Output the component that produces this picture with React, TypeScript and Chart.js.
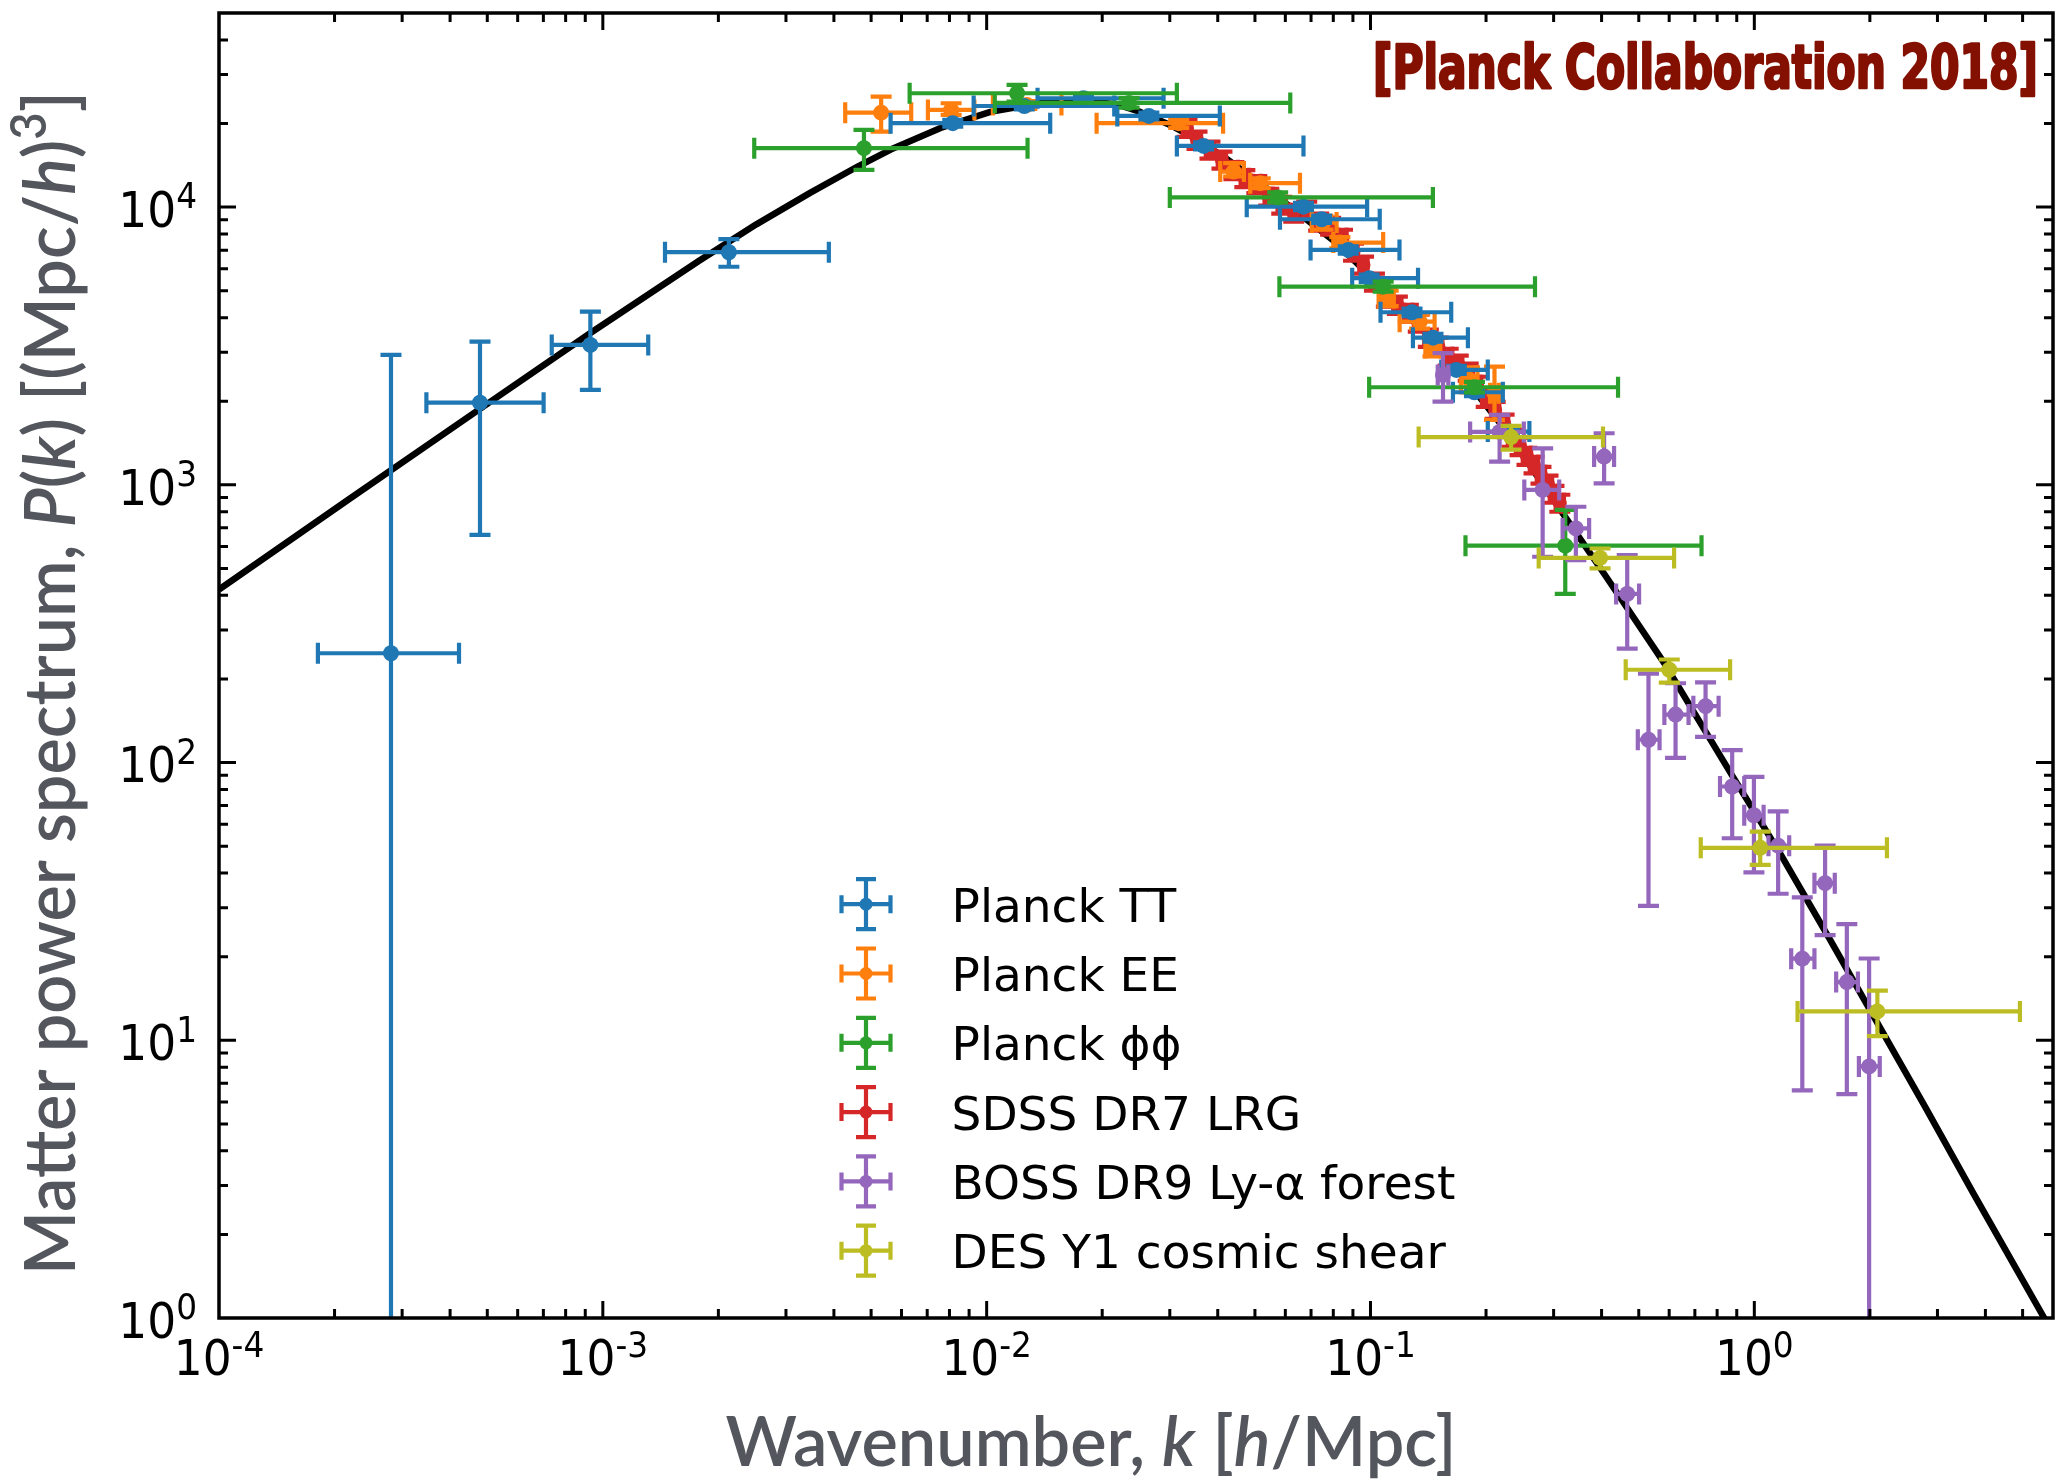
import React, { useEffect, useRef } from "react";
import { Chart, registerables } from "chart.js";

Chart.register(...registerables);

const CANVAS_W = 2061;
const CANVAS_H = 1480;

// ---------------- axis ranges & tick labels ----------------
const X_MIN = 1e-4;
const X_MAX = 6;
const Y_MIN = 1;
const Y_MAX = 5e4;
const xTickValues = [1e-4, 1e-3, 1e-2, 1e-1, 1];
const xTickExps = ["-4", "-3", "-2", "-1", "0"];
const yTickValues = [1, 10, 100, 1000, 10000];
const yTickExps = ["0", "1", "2", "3", "4"];

// ---------------- theory curve ----------------
const theoryK = [1e-4, 2.166e-4, 4.786e-4, 9.408e-4, 1.778e-3, 2.512e-3, 3.467e-3, 4.624e-3, 5.623e-3, 7.586e-3, 1.023e-2, 1.38e-2, 1.723e-2, 2.189e-2, 2.512e-2, 3.006e-2, 3.532e-2, 4.176e-2, 5.37e-2, 8.0e-2, 0.11, 0.1575, 0.2255, 0.3166, 0.4116, 0.5831, 0.8757, 1.17, 1.564, 2.092, 2.796, 3.737, 5.692, 6.0];
const theoryP = [420, 882, 1877, 3567, 6397, 8670, 11250, 14030, 16110, 19280, 22030, 23710, 24320, 23440, 22030, 19770, 17500, 15070, 11670, 7586, 4966, 2938, 1567, 790.7, 465.6, 227.5, 89.7, 46.8, 23.4, 11.56, 5.71, 2.78, 1.0, 0.88];

// ---------------- Planck TT ----------------
const ttK = [2.806e-4, 4.786e-4, 9.28e-4, 2.13e-3, 8.16e-3, 1.253e-2, 1.787e-2, 2.646e-2, 3.675e-2, 6.69e-2, 7.46e-2, 8.75e-2, 9.92e-2, 0.1283, 0.1455, 0.1673, 0.1866, 0.2301];
const ttP = [247.5, 1977, 3190, 6880, 20050, 23130, 24660, 21300, 16610, 10040, 9044, 7014, 5546, 4182, 3389, 2593, 2155, 1555];
const ttKLo = [1.81e-4, 3.47e-4, 7.36e-4, 1.452e-3, 5.62e-3, 9.25e-3, 1.357e-2, 2.19e-2, 3.13e-2, 4.76e-2, 5.81e-2, 6.98e-2, 8.96e-2, 0.1062, 0.129, 0.1529, 0.164, 0.2021];
const ttKHi = [4.22e-4, 7.01e-4, 1.313e-3, 3.88e-3, 1.464e-2, 2.15e-2, 2.89e-2, 4.05e-2, 6.69e-2, 9.8e-2, 0.1057, 0.119, 0.133, 0.1623, 0.1794, 0.2021, 0.2212, 0.2594];
const ttPLo = [0.5, 660, 2197, 6100, 19500, 22500, 24000, 20700, 16150, 9750, 8780, 6800, 5380, 4050, 3280, 2510, 2085, 1505];
const ttPHi = [2936, 3279, 4204, 7670, 20600, 23800, 25300, 21900, 17100, 10350, 9320, 7230, 5720, 4310, 3500, 2680, 2225, 1605];

// ---------------- Planck EE ----------------
const eeK = [5.31e-3, 8.08e-3, 1.273e-2, 3.165e-2, 4.4e-2, 5.16e-2, 7.52e-2, 8.32e-2, 0.1112, 0.1343, 0.1455, 0.1811, 0.2104];
const eeP = [21890, 22390, 23340, 20050, 13430, 12200, 8796, 7450, 4700, 3869, 3103, 2386, 2137];
const eeKLo = [4.28e-3, 7.03e-3, 1.038e-2, 1.934e-2, 4.06e-2, 4.86e-2, 7.03e-2, 8.0e-2, 0.105, 0.1191, 0.139, 0.172, 0.205];
const eeKHi = [6.36e-3, 9.29e-3, 1.566e-2, 4.13e-2, 4.68e-2, 6.55e-2, 8.16e-2, 0.1079, 0.115, 0.1469, 0.152, 0.19, 0.216];
const eePLo = [18700, 21480, 22600, 19300, 12890, 11700, 8300, 7100, 4400, 3650, 2900, 2150, 1713];
const eePHi = [25000, 23660, 24100, 20800, 14390, 12700, 9300, 7800, 5000, 4100, 3300, 2650, 2666];

// ---------------- Planck phi-phi ----------------
const ppK = [4.79e-3, 1.2e-2, 2.35e-2, 5.73e-2, 0.1079, 0.1866, 0.3217];
const ppP = [16300, 25700, 23720, 10840, 5172, 2246, 604];
const ppKLo = [2.48e-3, 6.3e-3, 1.05e-2, 3.0e-2, 5.79e-2, 9.92e-2, 0.1768];
const ppKHi = [1.278e-2, 3.13e-2, 6.18e-2, 0.1454, 0.2683, 0.4415, 0.7285];
const ppPLo = [13610, 23990, 22800, 10400, 4960, 2150, 405];
const ppPHi = [18970, 27540, 24700, 11300, 5390, 2350, 813];

// ---------------- SDSS DR7 LRG ----------------
const lrgK = [0.03326, 0.03532, 0.03818, 0.04102, 0.04407, 0.04706, 0.05057, 0.05433, 0.05872, 0.0631, 0.06821, 0.07328, 0.07872, 0.08456, 0.09033, 0.0959, 0.1024, 0.11, 0.1175, 0.1255, 0.1332, 0.1415, 0.1502, 0.1594, 0.1693, 0.1797, 0.1896, 0.2002, 0.2113, 0.2229, 0.2338, 0.2453, 0.2557, 0.2667, 0.2781, 0.2901, 0.3006, 0.3114];
const lrgP = [19290, 17460, 16070, 14790, 13570, 12700, 12080, 10880, 10180, 9530, 9772, 8846, 8556, 7747, 6898, 6193, 5379, 4710, 4444, 4159, 3828, 3381, 3164, 2888, 2725, 2551, 2290, 2056, 1861, 1671, 1475, 1381, 1271, 1180, 1086, 1008, 927, 861];
const lrgKLo = [0.03243, 0.03444, 0.03723, 0.04, 0.04297, 0.04588, 0.04931, 0.05297, 0.05725, 0.06152, 0.0665, 0.07145, 0.07675, 0.08245, 0.08807, 0.0935, 0.09984, 0.10725, 0.11456, 0.12236, 0.12987, 0.13796, 0.14645, 0.15542, 0.16507, 0.17521, 0.18486, 0.1952, 0.20602, 0.21733, 0.22796, 0.23917, 0.24931, 0.26003, 0.27115, 0.28285, 0.29309, 0.30362];
const lrgKHi = [0.03409, 0.0362, 0.03913, 0.04205, 0.04517, 0.04824, 0.05183, 0.05569, 0.06019, 0.06468, 0.06992, 0.07511, 0.08069, 0.08667, 0.09259, 0.0983, 0.10496, 0.11275, 0.12044, 0.12864, 0.13653, 0.14504, 0.15396, 0.16339, 0.17353, 0.18419, 0.19434, 0.20521, 0.21658, 0.22847, 0.23965, 0.25143, 0.26209, 0.27337, 0.28505, 0.29735, 0.30812, 0.31919];
const lrgPLo = [17900, 16200, 14950, 13750, 12620, 11810, 11230, 10120, 9470, 8860, 9090, 8230, 7960, 7200, 6410, 5760, 5000, 4380, 4130, 3870, 3560, 3140, 2940, 2690, 2530, 2370, 2130, 1910, 1730, 1550, 1370, 1280, 1180, 1100, 1010, 937, 862, 800];
const lrgPHi = [20700, 18700, 17200, 15830, 14520, 13590, 12930, 11640, 10890, 10200, 10460, 9470, 9150, 8290, 7380, 6630, 5760, 5040, 4760, 4450, 4100, 3620, 3390, 3090, 2920, 2730, 2450, 2200, 1990, 1790, 1580, 1480, 1360, 1260, 1160, 1080, 992, 921];

// ---------------- BOSS DR9 Ly-alpha ----------------
const lyaK = [0.1545, 0.217, 0.2809, 0.3428, 0.4061, 0.4665, 0.53, 0.6234, 0.7464, 0.8757, 0.9976, 1.1536, 1.3335, 1.529, 1.742, 1.991];
const lyaP = [2488, 1551, 958.5, 697, 1264, 404.7, 120.8, 148.9, 159.6, 82.0, 64.6, 50.2, 19.67, 36.8, 16.2, 8.05];
const lyaKLo = [0.1497, 0.1818, 0.2516, 0.3166, 0.3825, 0.4365, 0.4971, 0.583, 0.6937, 0.814, 0.9414, 1.0886, 1.2475, 1.4343, 1.6338, 1.8726];
const lyaKHi = [0.1595, 0.2509, 0.3102, 0.3712, 0.4311, 0.5009, 0.5664, 0.674, 0.8072, 0.9414, 1.0573, 1.2327, 1.4343, 1.6204, 1.8617, 2.1222];
const lyaPLo = [1993, 1212, 551, 536, 1013, 257, 30.5, 104, 123.8, 53.4, 40.2, 33.7, 6.6, 23.9, 6.4, 0.5];
const lyaPHi = [2978, 1785, 1354, 834, 1534, 559, 209, 193, 194.5, 110.8, 88.8, 66.7, 32.7, 50.2, 26.2, 19.7];

// ---------------- DES Y1 cosmic shear ----------------
const desK = [0.2324, 0.3964, 0.6004, 1.036, 2.092];
const desP = [1486, 545.6, 215.9, 49.3, 12.7];
const desKLo = [0.1335, 0.2743, 0.4623, 0.7251, 1.296];
const desKHi = [0.4034, 0.618, 0.8647, 2.2157, 4.92];
const desPLo = [1338, 500, 194, 42.8, 10.35];
const desPHi = [1630, 590, 235, 56.4, 15.1];

// ---------------- labels ----------------
const seriesLabels = ["Planck TT", "Planck EE", "Planck ϕϕ", "SDSS DR7 LRG", "BOSS DR9 Ly-α forest", "DES Y1 cosmic shear"];
const seriesColors = ["#1f77b4", "#ff7f0e", "#2ca02c", "#d62728", "#9467bd", "#bcbd22"];
const titleText = "[Planck Collaboration 2018]";

type Seg = { t: string; italic?: boolean; sup?: boolean };
const yTitleSegs: Seg[] = [
  { t: "Matter power spectrum, " },
  { t: "P", italic: true },
  { t: "(" },
  { t: "k", italic: true },
  { t: ") [(Mpc/" },
  { t: "h", italic: true },
  { t: ")" },
  { t: "3", sup: true },
  { t: "]" },
];
const xTitleSegs: Seg[] = [
  { t: "Wavenumber, " },
  { t: "k", italic: true },
  { t: " [" },
  { t: "h", italic: true },
  { t: "/Mpc]" },
];

// ---------------- style constants ----------------
const ERR_LW = 4.2;
const CAP = 10.5;
const LABEL_FAMILY = '"Lato", "Open Sans", "DejaVu Sans", sans-serif';
const LABEL_WEIGHT = "600";
const LABEL_COLOR = "#53575d";
const TICK_BASE_FONT = '50px "DejaVu Sans", sans-serif';
const TICK_EXP_FONT = '36px "DejaVu Sans", sans-serif';
const TICK_SX = 0.91;

function makeSeries(k: number[], p: number[], klo: number[], khi: number[], plo: number[], phi: number[]) {
  return {
    data: k.map((kv, i) => ({ x: kv, y: p[i] })),
    err: { xlo: klo, xhi: khi, ylo: plo, yhi: phi },
  };
}

const errorBarPlugin = {
  id: "errbars",
  beforeDatasetDraw(chart: any, args: any) {
    const ds: any = chart.data.datasets[args.index];
    const e = ds.err;
    if (!e) return;
    const xs = chart.scales.x;
    const ys = chart.scales.y;
    const ctx: CanvasRenderingContext2D = chart.ctx;
    const a = chart.chartArea;
    ctx.save();
    ctx.beginPath();
    ctx.rect(a.left, a.top, a.right - a.left, a.bottom - a.top);
    ctx.clip();
    ctx.strokeStyle = ds.borderColor;
    ctx.lineWidth = ERR_LW;
    ctx.lineCap = "butt";
    for (let i = 0; i < ds.data.length; i++) {
      const p = ds.data[i];
      const px = xs.getPixelForValue(p.x);
      const py = ys.getPixelForValue(p.y);
      const x0 = xs.getPixelForValue(e.xlo[i]);
      const x1 = xs.getPixelForValue(e.xhi[i]);
      const y0 = ys.getPixelForValue(e.ylo[i]);
      const y1 = ys.getPixelForValue(e.yhi[i]);
      ctx.beginPath();
      ctx.moveTo(x0, py);
      ctx.lineTo(x1, py);
      ctx.moveTo(px, y0);
      ctx.lineTo(px, y1);
      ctx.moveTo(x0, py - CAP);
      ctx.lineTo(x0, py + CAP);
      ctx.moveTo(x1, py - CAP);
      ctx.lineTo(x1, py + CAP);
      ctx.moveTo(px - CAP, y0);
      ctx.lineTo(px + CAP, y0);
      ctx.moveTo(px - CAP, y1);
      ctx.lineTo(px + CAP, y1);
      ctx.stroke();
    }
    ctx.restore();
  },
};

function logTicks(min: number, max: number) {
  const out: { v: number; major: boolean }[] = [];
  const e0 = Math.floor(Math.log10(min));
  const e1 = Math.ceil(Math.log10(max));
  for (let e = e0; e <= e1; e++) {
    for (let m = 1; m <= 9; m++) {
      const v = m * Math.pow(10, e);
      if (v > min * 1.0001 && v < max * 0.9999) out.push({ v, major: m === 1 });
    }
  }
  return out;
}

function drawPow(ctx: CanvasRenderingContext2D, exp: string, anchorX: number, baseline: number, align: "center" | "right") {
  ctx.font = TICK_BASE_FONT;
  const wb = ctx.measureText("10").width;
  ctx.font = TICK_EXP_FONT;
  const we = ctx.measureText(exp).width;
  const total = (wb + we) * TICK_SX;
  const left = align === "center" ? anchorX - total / 2 : anchorX - total;
  ctx.save();
  ctx.translate(left, baseline);
  ctx.scale(TICK_SX, 1);
  ctx.textAlign = "left";
  ctx.textBaseline = "alphabetic";
  ctx.fillStyle = "#000";
  ctx.font = TICK_BASE_FONT;
  ctx.fillText("10", 0, 0);
  ctx.font = TICK_EXP_FONT;
  ctx.fillText(exp, wb, -18.5);
  ctx.restore();
}

function segFont(s: Seg, size: number) {
  return `${s.italic ? "italic " : ""}${LABEL_WEIGHT} ${s.sup ? Math.round(size * 0.7) : size}px ${LABEL_FAMILY}`;
}

function drawRich(ctx: CanvasRenderingContext2D, segs: Seg[], size: number, target: number) {
  let total = 0;
  const widths = segs.map((s) => {
    ctx.font = segFont(s, size);
    const w = ctx.measureText(s.t).width;
    total += w;
    return w;
  });
  const sx = target / total;
  ctx.save();
  ctx.translate(-target / 2, 0);
  ctx.scale(sx, 1);
  ctx.textAlign = "left";
  ctx.textBaseline = "alphabetic";
  let x = 0;
  segs.forEach((s, i) => {
    ctx.font = segFont(s, size);
    ctx.fillText(s.t, x, s.sup ? -size * 0.4 : 0);
    x += widths[i];
  });
  ctx.restore();
}

const decorPlugin = {
  id: "decor",
  afterDraw(chart: any) {
    const ctx: CanvasRenderingContext2D = chart.ctx;
    const a = chart.chartArea;
    const xs = chart.scales.x;
    const ys = chart.scales.y;
    ctx.save();

    // ticks (inward, all four sides)
    ctx.strokeStyle = "#000";
    ctx.lineWidth = 3;
    ctx.beginPath();
    for (const t of logTicks(X_MIN, X_MAX)) {
      const px = xs.getPixelForValue(t.v);
      const len = t.major ? 17 : 9;
      ctx.moveTo(px, a.bottom);
      ctx.lineTo(px, a.bottom - len);
      ctx.moveTo(px, a.top);
      ctx.lineTo(px, a.top + len);
    }
    for (const t of logTicks(Y_MIN, Y_MAX)) {
      const py = ys.getPixelForValue(t.v);
      const len = t.major ? 17 : 9;
      ctx.moveTo(a.left, py);
      ctx.lineTo(a.left + len, py);
      ctx.moveTo(a.right, py);
      ctx.lineTo(a.right - len, py);
    }
    ctx.stroke();

    // frame
    ctx.lineWidth = 3.5;
    ctx.strokeRect(a.left, a.top, a.right - a.left, a.bottom - a.top);

    // tick labels
    xTickValues.forEach((v, i) => {
      drawPow(ctx, xTickExps[i], xs.getPixelForValue(v), a.bottom + 57, "center");
    });
    yTickValues.forEach((v, i) => {
      drawPow(ctx, yTickExps[i], a.left - 22, ys.getPixelForValue(v) + 19.8, "right");
    });

    // axis titles
    ctx.fillStyle = LABEL_COLOR;
    ctx.save();
    ctx.translate(1091, 1466);
    drawRich(ctx, xTitleSegs, 70, 731);
    ctx.restore();
    ctx.save();
    ctx.translate(75, 683);
    ctx.rotate(-Math.PI / 2);
    drawRich(ctx, yTitleSegs, 72, 1184);
    ctx.restore();

    // title annotation
    ctx.save();
    ctx.font = 'bold 60px "Liberation Sans Narrow", "DejaVu Sans Condensed", "Liberation Sans", sans-serif';
    const tw = ctx.measureText(titleText).width;
    ctx.translate(1373, 88);
    ctx.scale(665 / tw, 1);
    ctx.fillStyle = "#831000";
    ctx.strokeStyle = "#831000";
    ctx.lineWidth = 2.6;
    ctx.lineJoin = "round";
    ctx.textAlign = "left";
    ctx.fillText(titleText, 0, 0);
    ctx.strokeText(titleText, 0, 0);
    ctx.restore();

    // legend
    const LX = 866;
    const LTX = 951.6;
    const LY0 = 904.2;
    const LDY = 69.3;
    for (let i = 1; i < chart.data.datasets.length; i++) {
      const ds: any = chart.data.datasets[i];
      const yc = LY0 + (i - 1) * LDY;
      ctx.strokeStyle = ds.borderColor;
      ctx.fillStyle = ds.borderColor;
      ctx.lineWidth = ERR_LW;
      ctx.beginPath();
      ctx.moveTo(LX - 24.5, yc);
      ctx.lineTo(LX + 24.5, yc);
      ctx.moveTo(LX, yc - 25);
      ctx.lineTo(LX, yc + 25);
      ctx.moveTo(LX - 24.5, yc - 9);
      ctx.lineTo(LX - 24.5, yc + 9);
      ctx.moveTo(LX + 24.5, yc - 9);
      ctx.lineTo(LX + 24.5, yc + 9);
      ctx.moveTo(LX - 10, yc - 25);
      ctx.lineTo(LX + 10, yc - 25);
      ctx.moveTo(LX - 10, yc + 25);
      ctx.lineTo(LX + 10, yc + 25);
      ctx.stroke();
      ctx.beginPath();
      ctx.arc(LX, yc, 6.5, 0, Math.PI * 2);
      ctx.fill();
      ctx.fillStyle = "#000";
      ctx.font = '47px "DejaVu Sans", sans-serif';
      ctx.textAlign = "left";
      ctx.textBaseline = "alphabetic";
      ctx.fillText(ds.label, LTX, yc + 17.5);
    }

    ctx.restore();
  },
};

export default function App() {
  const ref = useRef<HTMLCanvasElement>(null);
  useEffect(() => {
    const canvas = ref.current!;
    const series = [
      makeSeries(ttK, ttP, ttKLo, ttKHi, ttPLo, ttPHi),
      makeSeries(eeK, eeP, eeKLo, eeKHi, eePLo, eePHi),
      makeSeries(ppK, ppP, ppKLo, ppKHi, ppPLo, ppPHi),
      makeSeries(lrgK, lrgP, lrgKLo, lrgKHi, lrgPLo, lrgPHi),
      makeSeries(lyaK, lyaP, lyaKLo, lyaKHi, lyaPLo, lyaPHi),
      makeSeries(desK, desP, desKLo, desKHi, desPLo, desPHi),
    ];
    // drawing order: lower "order" is drawn later (on top)
    const orders = [5, 6, 4, 7, 2, 1];
    const radii = [8, 8, 8, 7, 8, 8];
    const datasets: any[] = [
      {
        label: "theory",
        data: theoryK.map((k, i) => ({ x: k, y: theoryP[i] })),
        showLine: true,
        borderColor: "#000",
        backgroundColor: "#000",
        borderWidth: 6.5,
        pointRadius: 0,
        pointHoverRadius: 0,
        tension: 0,
        borderJoinStyle: "round",
        order: 10,
      },
      ...series.map((s, i) => ({
        label: seriesLabels[i],
        data: s.data,
        err: s.err,
        showLine: false,
        borderColor: seriesColors[i],
        backgroundColor: seriesColors[i],
        pointBackgroundColor: seriesColors[i],
        pointBorderWidth: 0,
        pointRadius: radii[i],
        pointHoverRadius: radii[i],
        order: orders[i],
      })),
    ];
    const chart = new Chart(canvas, {
      type: "scatter",
      data: { datasets },
      options: {
        animation: false,
        responsive: false,
        devicePixelRatio: 1,
        events: [],
        layout: { padding: { left: 219, right: 3, top: 13, bottom: 162 } },
        scales: {
          x: { type: "logarithmic", min: X_MIN, max: X_MAX, display: false },
          y: { type: "logarithmic", min: Y_MIN, max: Y_MAX, display: false },
        },
        plugins: {
          legend: { display: false },
          tooltip: { enabled: false },
        },
      } as any,
      plugins: [errorBarPlugin, decorPlugin],
    });
    return () => chart.destroy();
  }, []);
  return (
    <canvas
      ref={ref}
      width={CANVAS_W}
      height={CANVAS_H}
      style={{ position: "fixed", left: 0, top: 0, width: CANVAS_W, height: CANVAS_H, display: "block", background: "#fff" }}
    />
  );
}
